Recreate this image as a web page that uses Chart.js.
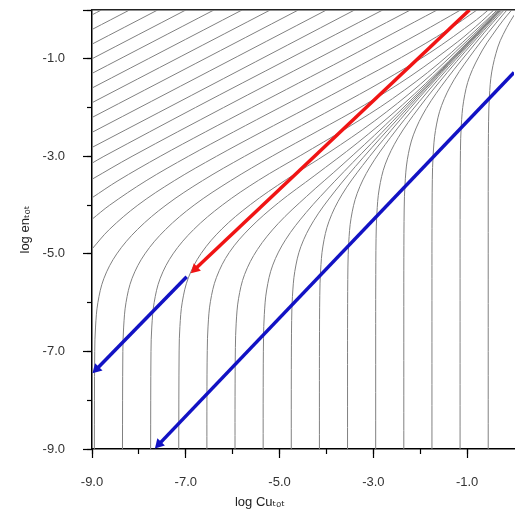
<!DOCTYPE html>
<html><head><meta charset="utf-8">
<script src="https://cdn.jsdelivr.net/npm/chart.js@4.4.1/dist/chart.umd.min.js"></script>
<style>
html,body{margin:0;padding:0;background:#fff;overflow:hidden;}
#wrap{position:relative;width:520px;height:512px;}
</style></head><body>
<div id="wrap"><canvas id="c"></canvas></div>
<script>
// ---- axis ranges and ticks ----
const xRange = [-9, 0];
const yRange = [-9, 0];
const xLabelTicks = [-9, -7, -5, -3, -1];
const yLabelTicks = [-9, -7, -5, -3, -1];
const xMajorTicks = [-9, -7, -5, -3, -1];
const xMinorTicks = [-9, -8, -7, -6, -5, -4, -3, -2, -1];
const yMajorTicks = [-9, -7, -5, -3, -1, 0];
const yMinorTicks = [-9, -8, -7, -6, -5, -4, -3, -2, -1, 0];
const xTitle = 'log Cu\u209C\u2092\u209C';
const yTitle = 'log en\u209C\u2092\u209C';

// ---- contour lines that rise vertically from the bottom axis ----
const curvesFromBottom = [
  [[-8.95,-9],[-8.942,-7],[-8.925,-6.5],[-8.875,-6],[-8.745,-5.5],[-8.472,-5],[-8.031,-4.5],[-7.422,-4],[-6.646,-3.5],[-5.746,-3],[-4.782,-2.5],[-3.794,-1.99],[-2.798,-1.46],[-1.799,-0.88],[-0.8,-0.2],[-0.55,0]],
  [[-8.35,-9],[-8.342,-7],[-8.325,-6.5],[-8.275,-6],[-8.145,-5.5],[-7.872,-5],[-7.431,-4.5],[-6.822,-4],[-6.046,-3.5],[-5.146,-2.99],[-4.182,-2.48],[-3.194,-1.95],[-2.198,-1.35],[-1.199,-0.65],[-0.7,-0.24],[-0.43,0]],
  [[-7.75,-9],[-7.742,-7],[-7.725,-6.5],[-7.675,-6],[-7.545,-5.5],[-7.272,-5],[-6.831,-4.5],[-6.222,-4],[-5.446,-3.49],[-4.546,-2.98],[-3.582,-2.43],[-2.594,-1.82],[-1.598,-1.09],[-0.599,-0.22],[-0.36,0]],
  [[-7.15,-9],[-7.142,-6.99],[-7.125,-6.49],[-7.075,-5.99],[-6.945,-5.49],[-6.672,-4.99],[-6.231,-4.49],[-5.622,-3.99],[-4.846,-3.47],[-3.946,-2.92],[-2.982,-2.28],[-1.994,-1.52],[-0.998,-0.63],[-0.5,-0.16],[-0.33,0]],
  [[-6.55,-9],[-6.549,-7.98],[-6.542,-6.98],[-6.525,-6.48],[-6.475,-5.98],[-6.345,-5.48],[-6.072,-4.97],[-5.631,-4.47],[-5.022,-3.95],[-4.246,-3.39],[-3.346,-2.73],[-2.382,-1.95],[-1.394,-1.05],[-0.398,-0.08],[-0.32,0]],
  [[-5.95,-9],[-5.949,-7.92],[-5.942,-6.92],[-5.925,-6.42],[-5.875,-5.92],[-5.745,-5.42],[-5.472,-4.91],[-5.031,-4.38],[-4.422,-3.82],[-3.646,-3.16],[-2.746,-2.36],[-1.782,-1.45],[-0.794,-0.48],[-0.3,0]],
  [[-5.35,-9],[-5.349,-7.74],[-5.342,-6.74],[-5.325,-6.24],[-5.275,-5.74],[-5.145,-5.23],[-4.872,-4.71],[-4.431,-4.15],[-3.822,-3.51],[-3.046,-2.74],[-2.146,-1.84],[-1.182,-0.88],[-0.3,0]],
  [[-4.75,-9],[-4.749,-7.37],[-4.742,-6.37],[-4.725,-5.87],[-4.675,-5.36],[-4.545,-4.85],[-4.272,-4.32],[-3.831,-3.73],[-3.222,-3.03],[-2.446,-2.2],[-1.546,-1.26],[-0.582,-0.29],[-0.31,0]],
  [[-4.15,-9],[-4.15,-7.85],[-4.149,-6.85],[-4.142,-5.85],[-4.125,-5.35],[-4.075,-4.84],[-3.945,-4.33],[-3.672,-3.79],[-3.231,-3.19],[-2.622,-2.47],[-1.846,-1.61],[-0.946,-0.67],[-0.29,0]],
  [[-3.55,-9],[-3.55,-7.27],[-3.549,-6.27],[-3.542,-5.27],[-3.525,-4.77],[-3.475,-4.27],[-3.345,-3.76],[-3.072,-3.22],[-2.631,-2.61],[-2.022,-1.88],[-1.246,-1.02],[-0.346,-0.07],[-0.28,0]],
  [[-2.95,-9],[-2.95,-6.68],[-2.949,-5.68],[-2.942,-4.68],[-2.925,-4.18],[-2.875,-3.67],[-2.745,-3.16],[-2.472,-2.62],[-2.031,-2.01],[-1.422,-1.28],[-0.646,-0.42],[-0.25,0]],
  [[-2.35,-9],[-2.35,-6.08],[-2.349,-5.08],[-2.342,-4.08],[-2.325,-3.58],[-2.275,-3.07],[-2.145,-2.56],[-1.872,-2.02],[-1.431,-1.41],[-0.822,-0.68],[-0.453,-0.26],[-0.21,0]],
  [[-1.75,-9],[-1.75,-5.5],[-1.749,-4.48],[-1.742,-3.48],[-1.725,-2.98],[-1.675,-2.47],[-1.545,-1.96],[-1.272,-1.42],[-0.831,-0.81],[-0.547,-0.46],[-0.222,-0.08],[-0.15,0]],
  [[-1.15,-9],[-1.15,-5.5],[-1.149,-3.88],[-1.142,-2.88],[-1.125,-2.38],[-1.075,-1.87],[-0.945,-1.36],[-0.672,-0.82],[-0.473,-0.53],[-0.231,-0.21],[-0.05,0]],
  [[-0.55,-9],[-0.55,-5],[-0.549,-3.28],[-0.542,-2.28],[-0.525,-1.78],[-0.475,-1.27],[-0.345,-0.76],[-0.23,-0.5],[-0.072,-0.22],[0.084,0.01]]
];

// ---- contour lines that enter from the left axis ----
const curvesFromLeft = [
  [[-9,-4.9],[-8.631,-4.5],[-8.022,-4],[-7.246,-3.5],[-6.346,-3],[-5.382,-2.5],[-4.394,-2.0],[-3.398,-1.49],[-2.399,-0.97],[-1.4,-0.4],[-0.79,0]],
  [[-9,-4.29],[-8.622,-4],[-7.846,-3.5],[-6.946,-3],[-5.982,-2.5],[-4.994,-2],[-3.998,-1.5],[-2.999,-0.99],[-2.0,-0.47],[-1.14,0]],
  [[-9,-3.85],[-8.446,-3.5],[-7.546,-3],[-6.582,-2.5],[-5.594,-2],[-4.598,-1.5],[-3.599,-1.0],[-2.6,-0.49],[-1.64,0]],
  [[-9,-3.47],[-8.146,-3],[-6.194,-2],[-4.199,-1],[-2.21,0]],
  [[-9,-3.14],[-8.746,-3],[-6.794,-2],[-4.799,-1],[-2.8,0]],
  [[-9,-2.818],[-3.4,0]],
  [[-9,-2.509],[-4.0,0]],
  [[-9,-2.204],[-4.6,0]],
  [[-9,-1.901],[-5.2,0]],
  [[-9,-1.6],[-5.8,0]],
  [[-9,-1.3],[-6.4,0]],
  [[-9,-1.0],[-7.0,0]],
  [[-9,-0.7],[-7.6,0]],
  [[-9,-0.4],[-8.2,0]],
  [[-9,-0.1],[-8.8,0]]
];

// ---- arrows ----
const redArrow = [[-0.95, 0], [-6.80, -5.31]];
const blueArrowUpper = [[-6.98, -5.47], [-8.90, -7.36]];
const blueArrowLower = [[0, -1.28], [-7.57, -8.90]];

// ---- build ----
const toXY = pts => pts.map(([x, y]) => ({x, y}));
const fontFamily = "'Liberation Sans', 'DejaVu Sans', Arial, sans-serif";
const axisFont = {family: fontFamily, size: 13};

function headRotation(ctx) {
  const d = ctx.dataset.data, i = ctx.dataIndex;
  if (i === 0) return 0;
  const sx = ctx.chart.scales.x, sy = ctx.chart.scales.y;
  const dx = sx.getPixelForValue(d[i].x) - sx.getPixelForValue(d[i - 1].x);
  const dy = sy.getPixelForValue(d[i].y) - sy.getPixelForValue(d[i - 1].y);
  return Math.atan2(dx, -dy) * 180 / Math.PI;
}
function arrowDataset(pts, color) {
  return {
    data: toXY(pts), showLine: true, borderColor: color, backgroundColor: color,
    borderWidth: 3.5, pointStyle: 'triangle', pointBackgroundColor: color,
    pointBorderColor: color, pointBorderWidth: 0,
    pointRadius: ctx => (ctx.dataIndex === pts.length - 1 ? 6 : 0),
    pointRotation: headRotation, tension: 0, order: 0
  };
}
function contourDataset(pts) {
  return {
    data: toXY(pts), showLine: true, borderColor: '#808080', borderWidth: 1,
    pointRadius: 0, tension: 0.35, order: 2, fill: false
  };
}
const setTicks = values => scale => { scale.ticks = values.map(v => ({value: v})); };
const noPad = s => { s.paddingTop = 0; s.paddingBottom = 0; s.paddingLeft = 0; s.paddingRight = 0; };
function tickAxis(pos, values, len) {
  return {
    type: 'linear', position: pos,
    min: ('x' in pos) ? yRange[0] : xRange[0], max: ('x' in pos) ? yRange[1] : xRange[1],
    afterBuildTicks: setTicks(values), afterFit: noPad,
    grid: {display: true, drawOnChartArea: false, drawTicks: true, tickLength: len, tickColor: '#000', tickWidth: 1.2},
    border: {display: false}, ticks: {display: false}
  };
}

const datasets = [
  arrowDataset(redArrow, '#f01414'),
  arrowDataset(blueArrowUpper, '#1212c4'),
  arrowDataset(blueArrowLower, '#1212c4'),
  ...curvesFromBottom.map(contourDataset),
  ...curvesFromLeft.map(contourDataset)
];

new Chart(document.getElementById('c'), {
  type: 'scatter',
  data: {datasets},
  options: {
    responsive: true, maintainAspectRatio: false, animation: false, events: [],
    layout: {padding: {top: 10, right: 0, left: 0, bottom: 0}},
    plugins: {
      legend: {display: false}, tooltip: {enabled: false},
      title: {display: true, position: 'bottom', text: xTitle, color: '#222',
        font: {family: fontFamily, size: 13, weight: 'normal'}, padding: {top: 0, bottom: 2}}
    },
    scales: {
      x: {
        type: 'linear', position: 'bottom', min: xRange[0], max: xRange[1],
        afterBuildTicks: setTicks(xLabelTicks),
        afterFit: s => { s.height = 45.4; noPad(s); },
        grid: {display: true, drawOnChartArea: false, drawTicks: true, tickLength: 10, tickColor: 'rgba(0,0,0,0)'},
        border: {display: true, color: '#000', width: 1.5},
        ticks: {autoSkip: false, maxRotation: 0, padding: 16, color: '#333', font: axisFont,
          callback: v => v.toFixed(1)}
      },
      y: {
        type: 'linear', position: 'left', min: yRange[0], max: yRange[1],
        afterBuildTicks: setTicks(yLabelTicks),
        afterFit: s => { s.width = 92; noPad(s); },
        grid: {display: true, drawOnChartArea: false, drawTicks: true, tickLength: 10, tickColor: 'rgba(0,0,0,0)'},
        border: {display: true, color: '#000', width: 1.5},
        title: {display: true, text: yTitle, color: '#222', font: axisFont, padding: {top: 18, bottom: 0}},
        ticks: {autoSkip: false, padding: 17, color: '#333', font: axisFont,
          callback: v => v.toFixed(1)}
      },
      xMinor: tickAxis({y: -9}, xMinorTicks, 5),
      xMajor: tickAxis({y: -9}, xMajorTicks, 9),
      yMinor: tickAxis({x: -9}, yMinorTicks, 5),
      yMajor: tickAxis({x: -9}, yMajorTicks, 9),
      xTop: {
        type: 'linear', position: {y: 0}, min: xRange[0], max: xRange[1],
        afterFit: noPad,
        grid: {display: false}, ticks: {display: false},
        border: {display: true, color: '#222', width: 1.5}
      }
    }
  }
});
</script>
</body></html>
